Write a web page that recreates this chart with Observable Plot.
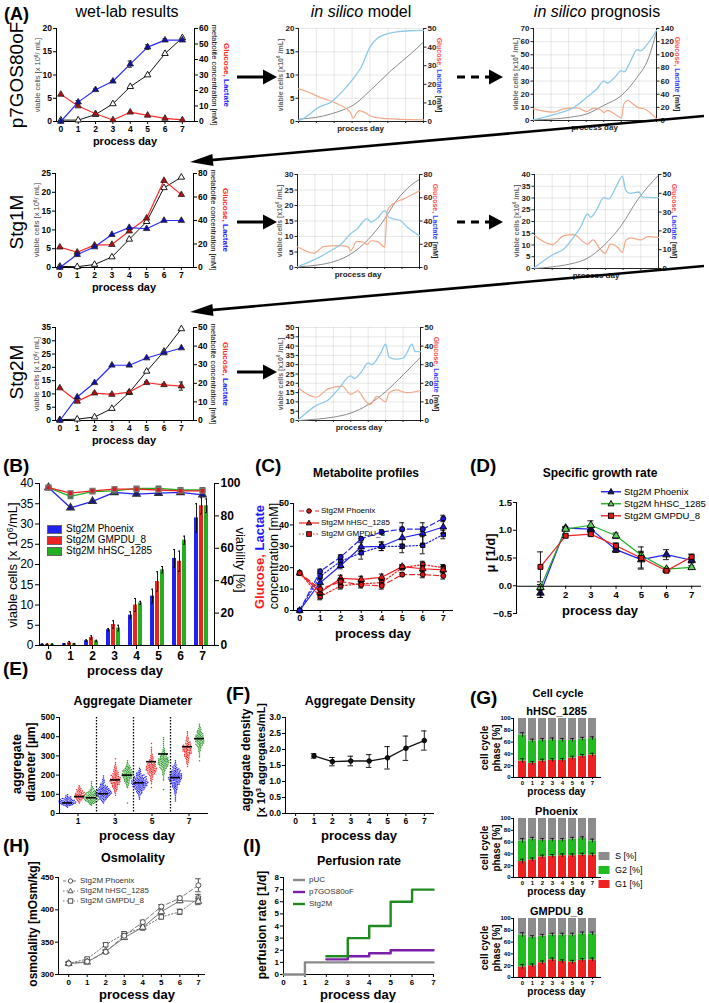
<!DOCTYPE html>
<html><head><meta charset="utf-8">
<script src="https://cdn.jsdelivr.net/npm/d3@7"></script>
<script src="https://cdn.jsdelivr.net/npm/@observablehq/plot@0.6"></script>
<style>
html,body{margin:0;padding:0;background:#fff;}
#fig{position:relative;width:709px;height:1003px;overflow:hidden;background:#fff;font-family:"Liberation Sans",Arial,Helvetica,sans-serif;}
#fig sup{font-size:65%;vertical-align:0.45em;line-height:0;}
</style></head><body><div id="fig"></div>
<script>
// ================= DATA =================
const days = [0,1,2,3,4,5,6,7];

// (A) wet-lab results
const p7_cells   = [0.3,0.3,1.5,3.8,7.5,10.0,14.6,18.0];
const p7_glucose = [17.5,10,5,1,6,4,2,1];
const p7_lactate = [0,12.5,20.5,26,37,48,52.5,52.5];
const p7_lactate_err = [0,1,0.5,0.5,2,1.5,0.8,0.8];
const stg1_cells   = [0.3,0.2,0.8,2.8,7.5,12.2,21.2,24];
const stg1_glucose = [17.3,13,19,19.5,31,42,74,62];
const stg1_lactate = [0,11,17.5,28,34,33,40,40];
const stg2_cells   = [0.3,0.5,1.3,4.5,10.5,18.5,26,34.5];
const stg2_glucose = [17.5,10.3,14.7,14,15.3,20.3,19.2,18.5];
const stg2_glucose_err = [0,0.5,0.5,0.5,0.5,0.5,0.5,2.2];
const stg2_lactate = [0,12.6,20.3,29.7,29.7,33.6,36.3,39];

// (A) in silico curves: [day, value]
const p7_model_cells   = [[0,0.5],[1,0.9],[1.8,1.6],[2.5,2.5],[3.1,3.6],[4,6.6],[5.2,11],[6.3,14.6],[7,17.1]];
const p7_model_glucose = [[0,17.5],[0.5,16],[1.2,13],[2.2,9.4],[2.9,4.9],[3.06,1.8],[3.25,4.5],[3.4,5.8],[3.7,4.9],[4,3.1],[4.6,1.8],[5.5,1.3],[7,0.9]];
const p7_model_lactate = [[0,0.5],[0.2,1.3],[1.2,8],[1.8,10.3],[2.5,16.6],[3.1,23.5],[3.5,29],[4.0,40],[4.4,44.6],[5.0,47.3],[5.5,48.2],[6.2,48.8],[7,49]];
const p7_prog_cells   = [[0,0.5],[1,1],[2.1,2.5],[3.05,5.1],[4,11.5],[5,19],[5.9,33],[6.5,46],[7,67.5]];
const p7_prog_glucose = [[0,17.8],[1.15,12.7],[1.7,17.8],[2.5,19.3],[3.05,13.7],[3.4,18.8],[3.8,16.8],[4,12.2],[4.2,15.3],[4.6,10.2],[5.0,4],[5.15,25.5],[5.35,30.5],[5.7,24.4],[6.0,19.3],[6.3,17.8],[7,2.5]];
const p7_prog_lactate = [[0,1],[1.3,10],[2.3,20],[3.05,35.6],[3.6,48],[4.0,60],[4.2,57],[4.6,65],[5.0,76],[5.15,74],[5.5,89],[5.9,108],[6.1,106],[6.5,117],[7,137]];
const stg1_model_cells   = [[0,0.2],[1,0.7],[1.9,1.6],[2.9,3.8],[3.8,7.6],[4.8,14],[5.7,21.7],[6.5,26.5],[7,28.4]];
const stg1_model_glucose = [[0,17.9],[0.95,12.4],[1.5,17.9],[2.3,18.8],[2.9,17.9],[3.05,14.4],[3.4,22.5],[3.8,21.7],[4,19.6],[4.2,23],[4.6,22.2],[5,17.3],[5.15,49],[5.5,55],[6.1,59],[7,66]];
const stg1_model_lactate = [[0,0.6],[1.15,8],[1.9,14.4],[2.5,20],[3.05,29],[3.4,33],[4,42],[4.2,39],[4.6,42.7],[5,49],[5.25,43],[5.9,40.4],[6.3,34.7],[7,27.4]];
const stg1_prog_cells   = [[0,0],[1,0.7],[2,1.9],[3,4.4],[3.9,9.7],[4.9,18.3],[5.8,29],[7,39.7]];
const stg1_prog_glucose = [[0,17.5],[1,12.7],[1.66,17.5],[2.2,18],[3,13],[3.3,15.2],[3.7,10.4],[3.98,8],[4.3,13],[4.7,11.2],[4.96,8.6],[5.15,14.8],[5.4,16.25],[6,15.2],[6.4,17],[7,16.6]];
const stg1_prog_lactate = [[0,0.5],[1.1,7.7],[1.66,10.4],[2.2,16.6],[2.6,22],[3.0,29],[3.17,27.3],[3.5,31],[3.9,37.7],[4.2,37],[4.6,43.4],[4.96,49],[5.15,41.6],[5.4,40],[5.9,40.7],[6.1,38],[7,37.7]];
const stg2_model_cells   = [[0,0],[1,0.7],[2,1.8],[3,4],[4,8.5],[5,15.5],[6,24.5],[7,34]];
const stg2_model_glucose = [[0,17.5],[1,12.5],[1.7,17],[2.5,18.5],[3,14],[3.4,16],[3.8,11],[4.1,8.5],[4.5,13],[5,10],[5.2,15],[5.6,16.5],[6.2,15],[7,16]];
const stg2_model_lactate = [[0,0.5],[1,8],[1.7,11],[2.3,17],[3,24],[3.2,22.5],[3.6,26],[4,31],[4.2,30],[4.7,36],[5,41],[5.2,34],[5.6,33],[6,33.5],[6.2,36],[6.5,41],[6.7,37],[7,37]];

// (B) viable cells & viability
const cellLines = ["Stg2M Phoenix","Stg2M GMPDU_8","Stg2M hHSC_1285"];
const B_phoenix = [0.3,0.4,1.2,3.9,7.5,12.2,21.5,31.5];
const B_gmpdu   = [0.3,0.7,2.0,5.2,10.0,15.8,20.8,34.5];
const B_hhsc    = [0.3,0.4,1.1,4.3,10.5,18.7,26.0,34.5];
const B_phoenix_err = [0.1,0.1,0.2,0.3,0.8,1.7,2.2,3.5];
const B_gmpdu_err   = [0.1,0.3,0.4,0.9,1.6,2.4,2.5,2.0];
const B_hhsc_err    = [0.1,0.1,0.2,0.7,0.4,0.8,1.0,1.7];
const B_viab_phoenix = [97.5,85,89,94.5,93.5,94,94.5,93];
const B_viab_gmpdu   = [97.5,94,95.5,96.5,96.5,96,95.5,95.5];
const B_viab_hhsc    = [97.5,92,95,95.5,97,97,96,96];

// (C) metabolite profiles
const C_lac_phoenix = [0,18.3,25,33.5,36.7,38,38,43];
const C_lac_hhsc    = [0,13,21,29.7,30,34,36,39];
const C_lac_gmpdu   = [0,16,23,27,30,30,30.5,35.5];
const C_glu_phoenix = [17.5,10,13.5,12,11.5,16.8,16.8,16.2];
const C_glu_hhsc    = [17.5,8.5,15,14.5,15.5,20.5,19.5,19];
const C_glu_gmpdu   = [17.5,6.5,11.5,12.5,13,20,21.5,20];
const C_lac_phoenix_err = [0,1,1,1,1,1,1,1.5];
const C_lac_hhsc_err    = [0,2,1.5,2,2,7,5,3];
const C_lac_gmpdu_err   = [0,1.5,1.5,3,2,1,4,2];
const C_glu_err         = [0,1.5,1.5,1.5,1.5,1,1.5,1.5];

// (D) specific growth rate
const D_days = [1,2,3,4,5,6,7];
const D_phoenix = [-0.13,1.04,1.02,0.65,0.47,0.56,0.46];
const D_hhsc    = [-0.03,1.02,1.09,0.9,0.55,0.3,0.33];
const D_gmpdu   = [0.34,0.9,0.93,0.72,0.5,0.27,0.52];
const D_phoenix_err = [0.08,0.03,0.05,0.05,0.15,0.09,0.05];
const D_hhsc_err    = [0.05,0.03,0.08,0.05,0.05,0.03,0.03];
const D_gmpdu_err   = [0.27,0.03,0.03,0.05,0.2,0.03,0.05];

// (E) aggregate diameter: counts per 10 µm bin, starting at `start`
const E_groups = [1,3,5,7];
const E_clouds = [
  {id:"1b", start:30,  counts:[2,10,14,13,9,5,2]},
  {id:"1r", start:50,  counts:[1,3,5,7,8,7,5,4,2,1]},
  {id:"1g", start:40,  counts:[2,6,10,12,11,9,7,5,3,2,1,1,1]},
  {id:"3b", start:50,  counts:[1,3,5,8,11,13,12,10,7,5,3,2,2,1,1]},
  {id:"3r", start:90,  counts:[1,1,2,3,4,5,7,8,8,7,6,5,4,3,2,2,1,1,0,1]},
  {id:"3g", start:50,  counts:[1,0,0,0,0,0,0,0,1,2,3,4,5,7,8,9,8,7,5,4,2,1,1]},
  {id:"5b", start:70,  counts:[1,1,2,4,5,7,9,11,13,13,11,9,7,5,3,2,1]},
  {id:"5r", start:130, counts:[1,0,1,1,2,2,3,5,6,8,9,8,7,5,4,3,2,2,1,1,1,1,0,1]},
  {id:"5g", start:120, counts:[1,0,0,0,0,1,1,1,2,2,3,5,6,8,9,9,8,6,4,3,2,2,1,1,1,1,1,1]},
  {id:"7b", start:60,  counts:[1,1,1,1,2,2,3,4,5,7,8,10,11,11,10,8,6,4,3,2,1,1]},
  {id:"7r", start:240, counts:[1,1,2,2,3,4,5,6,7,7,6,5,4,3,2,2,1,1,1]},
  {id:"7g", start:270, counts:[1,0,1,1,1,2,2,3,5,6,7,7,7,6,5,4,3,2,1,1]}
];
const E_medians = [55,88,82,103,175,200,160,270,310,187,348,390];
const E_separators = [2,4,6];

// (F) aggregate density
const F_days = [1,2,3,4,5,6,7];
const F_density = [1.8,1.62,1.64,1.64,1.74,2.04,2.28];
const F_err = [0.07,0.13,0.15,0.2,0.35,0.38,0.3];

// (G) cell cycle (G1, G2 in %; S = remainder)
const G_hhsc_G1 = [28,24,28,29,29,33,36,38];
const G_hhsc_G2 = [44,38,35,35,34,30,29,28];
const G_phoenix_G1 = [27,30,35,36,37,37,38,38];
const G_phoenix_G2 = [35,35,28,27,26,28,28,24];
const G_gmpdu_G1 = [18,20,25,30,27,26,29,30];
const G_gmpdu_G2 = [54,48,45,42,45,46,45,44];
const G_err = [4,3,3,3,3,3,3,3];

// (H) osmolality
const H_phoenix = [317,320,335,360,381,405,418,438];
const H_hhsc    = [317,319,336,357,373,397,414,413];
const H_gmpdu   = [317,324,346,363,372,389,397,418];
const H_phoenix_err = [2,2,3,3,3,3,3,10];
const H_hhsc_err    = [2,2,2,2,2,3,3,5];
const H_gmpdu_err   = [2,2,3,3,3,3,4,6];

// (I) perfusion rate (step after)
const I_pUC   = [[0,0],[1,1],[7,1]];
const I_p7    = [[2,1.25],[3,1.5],[4,1.75],[5,2],[7,2]];
const I_stg2m = [[2,1.5],[3,3],[4,4],[5,6],[6,7],[7,7]];

// ================= HELPERS =================
const fig = document.getElementById("fig");
const FONT = '"Liberation Sans", Arial, Helvetica, sans-serif';
const COL = {blue:"#2222ee", red:"#ee2222", green:"#22b022", egreen:"#2e9a2e", lblue:"#8ec9e8", orange:"#f2a98a", grey:"#8a8a8a"};
const fmtD = d3.format("d");

function mk(f, M, opts, st = {}) {
  const [ml, mt, mr, mb] = M;
  const style = `background:transparent;overflow:visible;font-family:${FONT};font-size:${st.size||8}px;font-weight:${st.weight||"bold"};color:${st.color||"#000"};`;
  const svg = Plot.plot(Object.assign({
    width: f.r - f.l + ml + mr, height: f.b - f.t + mt + mb,
    marginLeft: ml, marginTop: mt, marginRight: mr, marginBottom: mb, style
  }, opts));
  svg.style.position = "absolute";
  svg.style.left = (f.l - ml) + "px";
  svg.style.top = (f.t - mt) + "px";
  svg.style.maxWidth = "none";
  fig.appendChild(svg);
  return svg;
}
function T(html, x, y, o = {}) {
  const d = document.createElement("div");
  d.innerHTML = html;
  const tx = o.anchor === "start" ? "0" : o.anchor === "end" ? "-100%" : "-50%";
  d.style.cssText = `position:absolute;left:${x}px;top:${y}px;white-space:nowrap;line-height:1;` +
    `transform:translate(${tx},-50%)${o.rot ? ` rotate(${o.rot}deg)` : ""};` +
    `font-size:${o.size||10}px;font-weight:${o.bold?"bold":"normal"};color:${o.color||"#000"};font-style:${o.italic?"italic":"normal"};`;
  fig.appendChild(d);
  return d;
}
function sym(s, cx, cy, r, fill, stroke) {
  if (s === "circle") return `<circle cx="${cx}" cy="${cy}" r="${r}" fill="${fill}" stroke="${stroke}" stroke-width="0.9"/>`;
  if (s === "square") return `<rect x="${cx-r}" y="${cy-r}" width="${2*r}" height="${2*r}" fill="${fill}" stroke="${stroke}" stroke-width="0.9"/>`;
  if (s === "triangle") return `<path d="M${cx},${cy-r*1.25}L${cx+r*1.15},${cy+r*0.8}L${cx-r*1.15},${cy+r*0.8}Z" fill="${fill}" stroke="${stroke}" stroke-width="0.9"/>`;
  return "";
}
function sw(w, h, o) {
  let s = `<svg width="${w}" height="${h}" style="display:block;overflow:visible">`;
  if (o.box) s += `<rect x="0.5" y="0.5" width="${w-1}" height="${h-1}" fill="${o.box}" stroke="${o.boxStroke||"none"}"/>`;
  if (o.stroke) s += `<line x1="0" x2="${w}" y1="${h/2}" y2="${h/2}" stroke="${o.stroke}" stroke-width="${o.sw||1.2}" ${o.dash?`stroke-dasharray="${o.dash}"`:""}/>`;
  if (o.sym) s += sym(o.sym, w/2, h/2, o.r||2.5, o.fill, o.mstroke||"#000");
  return s + "</svg>";
}
function L(x, y, swatch, text, o = {}) {
  const d = document.createElement("div");
  d.style.cssText = `position:absolute;left:${x}px;top:${y}px;transform:translateY(-50%);display:flex;align-items:center;white-space:nowrap;font-size:${o.size||9}px;color:${o.color||"#000"};line-height:1;`;
  d.innerHTML = swatch + `<span style="margin-left:${o.gap||3}px">${text}</span>`;
  fig.appendChild(d);
}
function ebar(rows, x, y, e, w, stroke = "#000", sw = 0.9) {
  const r = rows.filter(d => e(d) > 0);
  return [
    Plot.ruleX(r, {x, y1: d => y(d) - e(d), y2: d => y(d) + e(d), stroke, strokeWidth: sw}),
    Plot.ruleY(r, {y: d => y(d) + e(d), x1: d => x(d) - w, x2: d => x(d) + w, stroke, strokeWidth: sw}),
    Plot.ruleY(r, {y: d => y(d) - e(d), x1: d => x(d) - w, x2: d => x(d) + w, stroke, strokeWidth: sw})
  ];
}
function seriesMarks(series, capW) {
  const marks = [];
  for (const s of series) {
    const rows = s.x.map((d, i) => ({day: d, v: s.v[i], e: s.e ? s.e[i] : 0}));
    marks.push(...ebar(rows, d => d.day, d => d.v, d => d.e, capW, s.estroke || "#000"));
    marks.push(Plot.line(rows, {x: "day", y: "v", stroke: s.stroke, strokeWidth: s.sw || 1.2, strokeDasharray: s.dash, curve: s.curve || "linear"}));
    if (s.symbol) marks.push(Plot.dot(rows, {x: "day", y: "v", symbol: s.symbol, r: s.r || 2.5, fill: s.fill, stroke: s.mstroke || "#000", strokeWidth: 0.9}));
  }
  return marks;
}
const rng = (a, b, s) => d3.range(a, b + s / 2, s);

// ================= (A) =================
function wetlab(f, lMax, lStep, rMax, rStep, cells, glu, lac, gluErr, lacErr) {
  const rows = days.map((d, i) => ({day: d, cells: cells[i], glu: glu[i], lac: lac[i], ge: gluErr ? gluErr[i] : 0, le: lacErr ? lacErr[i] : 0}));
  const M = [24, 6, 24, 16];
  const xs = {domain: [-0.25, 7.7], ticks: days, tickFormat: fmtD, tickSize: 3, tickPadding: 1.5, line: true, label: null};
  mk(f, M, {
    x: xs,
    y: {domain: [0, lMax], ticks: rng(0, lMax, lStep), tickFormat: fmtD, tickSize: 3, tickPadding: 1.5, line: true, label: null},
    marks: [
      Plot.line(rows, {x: "day", y: "cells", stroke: "#111", strokeWidth: 1}),
      Plot.dot(rows, {x: "day", y: "cells", symbol: "triangle", r: 2.4, fill: "#fff", stroke: "#000", strokeWidth: 0.9})
    ]
  }, {size: 8.5});
  mk(f, M, {
    x: {...xs, axis: null},
    y: {domain: [0, rMax], axis: "right", ticks: rng(0, rMax, rStep), tickFormat: fmtD, tickSize: 3, tickPadding: 1.5, line: true, label: null},
    marks: [
      ...ebar(rows, d => d.day, d => d.glu, d => d.ge, 0.12),
      ...ebar(rows, d => d.day, d => d.lac, d => d.le, 0.12),
      Plot.line(rows, {x: "day", y: "glu", stroke: "#ff2a2a", strokeWidth: 1.2}),
      Plot.line(rows, {x: "day", y: "lac", stroke: "#2a2aff", strokeWidth: 1.2}),
      Plot.dot(rows, {x: "day", y: "glu", symbol: "triangle", r: 2.4, fill: "#b01010", stroke: "#222", strokeWidth: 0.8}),
      Plot.dot(rows, {x: "day", y: "lac", symbol: "triangle", r: 2.4, fill: "#1010b0", stroke: "#222", strokeWidth: 0.8})
    ]
  }, {size: 8.5});
  const cy = (f.t + f.b) / 2;
  T(`viable cells [x 10<sup>6</sup>/ mL]`, f.l - 18, cy, {rot: -90, size: 7.5, color: "#444"});
  T(`metabolite concentration [mM]`, f.r + 20, cy, {rot: 90, size: 7.5});
  T(`<span style="color:#ff2020">Glucose,</span> <span style="color:#2020ff">Lactate</span>`, f.r + 32, cy, {rot: 90, size: 8, bold: true});
  T("process day", (f.l + f.r) / 2, f.b + 20, {size: 11, bold: true});
}
function silico(f, lMax, lStep, rMax, rStep, cells, glu, lac, rOff) {
  const M = [20, 6, 20, 8];
  const xs = {domain: [0, 7], ticks: days, tickSize: 2, tickFormat: () => "", line: true, label: null, grid: true};
  const toRows = a => a.map(([d, v]) => ({day: d, v}));
  mk(f, M, {
    x: xs,
    y: {domain: [0, lMax], ticks: rng(0, lMax, lStep), tickFormat: fmtD, tickSize: 2.5, tickPadding: 1.5, line: true, label: null, grid: true},
    marks: [Plot.line(toRows(cells), {x: "day", y: "v", stroke: COL.grey, strokeWidth: 1, curve: "monotone-x"})]
  }, {size: 8, color: "#222"});
  mk(f, M, {
    x: {...xs, axis: null, grid: false},
    y: {domain: [0, rMax], axis: "right", ticks: rng(0, rMax, rStep), tickFormat: fmtD, tickSize: 2.5, tickPadding: 1.5, line: true, label: null},
    marks: [
      Plot.line(toRows(glu), {x: "day", y: "v", stroke: COL.orange, strokeWidth: 1.2, curve: "monotone-x"}),
      Plot.line(toRows(lac), {x: "day", y: "v", stroke: COL.lblue, strokeWidth: 1.3, curve: "monotone-x"})
    ]
  }, {size: 8, color: "#222"});
  const cy = (f.t + f.b) / 2;
  T(`viable cells [x10<sup>6</sup> /mL]`, f.l - 18, cy, {rot: -90, size: 7, bold: true, color: "#666"});
  T(`<span style="color:#ff4d4d">Glucose,</span> <span style="color:#3344ff">Lactate</span> [mM]`, f.r + (rOff || 16), cy, {rot: 90, size: 7, bold: true, color: "#222"});
  T("process day", (f.l + f.r) / 2, f.b + 8, {size: 8, bold: true, color: "#222"});
}

T("(A)", 4, 14, {anchor: "start", size: 18, bold: true});
T("wet-lab results", 127, 12, {size: 16});
T("<i>in silico</i> model", 361, 12, {size: 16});
T("<i>in silico</i> prognosis", 597, 12, {size: 16});
T("p7GOS80oF", 16, 75, {rot: -90, size: 19});
T("Stg1M", 16, 222, {rot: -90, size: 19});
T("Stg2M", 16, 372, {rot: -90, size: 19});

wetlab({l: 56, r: 194, t: 28, b: 121}, 20, 5, 60, 10, p7_cells, p7_glucose, p7_lactate, null, p7_lactate_err);
wetlab({l: 55, r: 193, t: 173, b: 267}, 25, 5, 80, 20, stg1_cells, stg1_glucose, stg1_lactate);
wetlab({l: 55, r: 193, t: 327, b: 420}, 35, 5, 50, 10, stg2_cells, stg2_glucose, stg2_lactate, stg2_glucose_err);
silico({l: 298, r: 423, t: 28, b: 121}, 20, 5, 50, 10, p7_model_cells, p7_model_glucose, p7_model_lactate);
silico({l: 533, r: 656, t: 28, b: 120}, 70, 10, 140, 20, p7_prog_cells, p7_prog_glucose, p7_prog_lactate, 21);
silico({l: 297, r: 419, t: 174, b: 267}, 30, 5, 80, 20, stg1_model_cells, stg1_model_glucose, stg1_model_lactate);
silico({l: 534, r: 658, t: 174, b: 268}, 40, 5, 50, 10, stg1_prog_cells, stg1_prog_glucose, stg1_prog_lactate);
silico({l: 298, r: 420, t: 327, b: 420}, 50, 5, 50, 10, stg2_model_cells, stg2_model_glucose, stg2_model_lactate);

// arrows (schematic annotation)
(function () {
  let s = "";
  const head = (x, y, a, len, hw) => {
    const c = Math.cos(a), n = Math.sin(a), bx = x - c * len, by = y - n * len;
    return `<path d="M${x},${y}L${bx - n * hw},${by + c * hw}L${bx + n * hw},${by - c * hw}Z" fill="#000"/>`;
  };
  const line = (x1, y1, x2, y2, w, dash) => `<line x1="${x1}" y1="${y1}" x2="${x2}" y2="${y2}" stroke="#000" stroke-width="${w}" ${dash ? `stroke-dasharray="${dash}"` : ""}/>`;
  for (const y of [77, 222, 372]) s += line(237, y, 264, y, 3) + head(277, y, 0, 14, 7.5);
  for (const y of [77, 222]) s += line(457, y, 490, y, 3, "8,6") + head(503, y, 0, 14, 7.5);
  const diag = (x1, y1, x2, y2) => { const a = Math.atan2(y2 - y1, x2 - x1); s += line(x1, y1, x2 - Math.cos(a) * 18, y2 - Math.sin(a) * 18, 2.6) + head(x2, y2, a, 23, 6); };
  diag(704, 116, 190, 162);
  diag(704, 266, 190, 312);
  const d = document.createElement("div");
  d.style.cssText = "position:absolute;left:0;top:0;pointer-events:none;";
  d.innerHTML = `<svg width="709" height="1003" style="display:block">${s}</svg>`;
  fig.appendChild(d);
})();

// ================= (B) =================
(function () {
  const f = {l: 36, r: 214, t: 483, b: 645};
  const M = [28, 6, 28, 18];
  const series = [
    {line: cellLines[0], v: B_phoenix, e: B_phoenix_err, col: COL.blue},
    {line: cellLines[1], v: B_gmpdu, e: B_gmpdu_err, col: COL.red},
    {line: cellLines[2], v: B_hhsc, e: B_hhsc_err, col: COL.green}
  ];
  const rows = [];
  days.forEach((d, i) => series.forEach(s => rows.push({day: d, line: s.line, v: s.v[i], e: s.e[i], col: s.col})));
  mk(f, M, {
    fx: {domain: days, paddingInner: 0.22, paddingOuter: 0.11, axis: null},
    x: {domain: cellLines, axis: null, paddingInner: 0.12, paddingOuter: 0},
    y: {domain: [0, 40], ticks: rng(0, 40, 5), tickFormat: fmtD, tickSize: 4, tickPadding: 2, line: true, label: null},
    color: {type: "identity"},
    marks: [
      Plot.barY(rows, {fx: "day", x: "line", y: "v", fill: "col"}),
      Plot.ruleX(rows, {fx: "day", x: "line", y1: d => d.v - d.e, y2: d => d.v + d.e, stroke: "#000", strokeWidth: 0.9}),
      Plot.tickY(rows, {fx: "day", x: "line", y: d => d.v + d.e, stroke: "#000", strokeWidth: 0.9, inset: 1}),
      Plot.tickY(rows, {fx: "day", x: "line", y: d => d.v - d.e, stroke: "#000", strokeWidth: 0.9, inset: 1})
    ]
  }, {size: 12, weight: "normal"});
  const vs = [
    {x: days, v: B_viab_phoenix, stroke: COL.blue, symbol: "triangle", fill: "#1a1a90", mstroke: "#333", r: 2.8},
    {x: days, v: B_viab_hhsc, stroke: COL.green, symbol: "square", fill: "#1f8f1f", mstroke: "#666", r: 2.6},
    {x: days, v: B_viab_gmpdu, stroke: COL.red, symbol: "square", fill: "#e01818", mstroke: "#777", r: 2.8}
  ];
  mk(f, M, {
    x: {type: "point", domain: days, padding: 0.5, tickSize: 4, tickPadding: 2, line: true, label: null},
    y: {domain: [0, 100], axis: "right", ticks: rng(0, 100, 20), tickFormat: fmtD, tickSize: 4, tickPadding: 2, line: true, label: null},
    marks: vs.flatMap(s => {
      const r = s.x.map((d, i) => ({day: d, v: s.v[i]}));
      return [Plot.line(r, {x: "day", y: "v", stroke: s.stroke, strokeWidth: 1.3}),
              Plot.dot(r, {x: "day", y: "v", symbol: s.symbol, r: s.r, fill: s.fill, stroke: s.mstroke, strokeWidth: 1.2})];
    })
  }, {size: 12, weight: "bold"});
  T("(B)", 3, 465, {anchor: "start", size: 19, bold: true});
  T(`viable cells [x 10<sup>6</sup>/mL]`, 12, 565, {rot: -90, size: 13});
  T("viability [%]", 240, 560, {rot: 90, size: 13});
  T("process day", 125, 670, {size: 13, bold: true});
  const leg = [[COL.blue, cellLines[0]], [COL.red, cellLines[1]], [COL.green, cellLines[2]]];
  leg.forEach(([c, t], i) => L(47, 529 + i * 11, sw(15, 9, {box: c, boxStroke: "#666"}), t, {size: 10, gap: 4}));
})();

// ================= (C) =================
(function () {
  const f = {l: 293, r: 452, t: 503, b: 610};
  const series = [
    {x: days, v: C_lac_gmpdu, e: C_lac_gmpdu_err, stroke: COL.blue, dash: "1.5,2", symbol: "square", fill: "#1a1acc"},
    {x: days, v: C_lac_hhsc, e: C_lac_hhsc_err, stroke: COL.blue, symbol: "triangle", fill: "#1a1acc"},
    {x: days, v: C_lac_phoenix, e: C_lac_phoenix_err, stroke: COL.blue, dash: "5,3", symbol: "circle", fill: "#1a1acc"},
    {x: days, v: C_glu_gmpdu, e: C_glu_err, stroke: COL.red, dash: "1.5,2", symbol: "square", fill: "#dd1515"},
    {x: days, v: C_glu_hhsc, e: C_glu_err, stroke: COL.red, symbol: "triangle", fill: "#dd1515"},
    {x: days, v: C_glu_phoenix, e: C_glu_err, stroke: COL.red, dash: "5,3", symbol: "circle", fill: "#dd1515"}
  ];
  mk(f, [24, 6, 10, 16], {
    x: {domain: [-0.3, 7.45], ticks: days, tickFormat: fmtD, tickSize: 3, tickPadding: 1.5, line: true, label: null},
    y: {domain: [0, 50], ticks: rng(0, 50, 10), tickFormat: fmtD, tickSize: 3, tickPadding: 1.5, line: true, label: null},
    marks: seriesMarks(series, 0.12)
  }, {size: 9});
  T("(C)", 255, 465, {anchor: "start", size: 19, bold: true});
  T("Metabolite profiles", 366, 473, {size: 12, bold: true});
  T(`<span style="color:#ff1a1a">Glucose,</span> <span style="color:#1a1aff">Lactate</span>`, 259, 557, {rot: -90, size: 13, bold: true});
  T("concentration [mM]", 274, 556, {rot: -90, size: 12.5});
  T("process day", 373, 633, {size: 13, bold: true});
  const leg = [["Stg2M Phoenix", "5,3", "circle"], ["Stg2M hHSC_1285", null, "triangle"], ["Stg2M GMPDU_8", "1.5,2", "square"]];
  leg.forEach(([t, dash, s], i) => L(299, 511 + i * 11.7, sw(20, 8, {stroke: COL.red, dash, sym: s, fill: "#dd1515", r: 2.3}), t, {size: 8, gap: 2}));
})();

// ================= (D) =================
(function () {
  const f = {l: 516, r: 700, t: 502, b: 613};
  const dom = [0.05, 7.35];
  const series = [
    {x: D_days, v: D_phoenix, e: D_phoenix_err, stroke: COL.blue, symbol: "triangle", fill: "#14147a", r: 2.8},
    {x: D_days, v: D_hhsc, e: D_hhsc_err, stroke: COL.green, symbol: "triangle", fill: "#60d060", r: 2.8},
    {x: D_days, v: D_gmpdu, e: D_gmpdu_err, stroke: COL.red, symbol: "square", fill: "#e01818", r: 2.8}
  ];
  mk(f, [26, 6, 10, 10], {
    x: {domain: dom, axis: null},
    y: {domain: [-0.5, 1.5], ticks: [-0.5, 0, 0.5, 1, 1.5], tickFormat: d3.format(".1f"), tickSize: 3, tickPadding: 1.5, line: true, label: null},
    marks: seriesMarks(series, 0.12)
  }, {size: 9.5});
  mk({l: f.l, r: f.r, t: f.t, b: 585.75}, [26, 6, 10, 10], {
    x: {domain: dom, ticks: D_days, tickFormat: fmtD, tickSize: 3, tickPadding: 1.5, line: true, label: null},
    marks: [Plot.tickX(D_days, {x: d => d, strokeOpacity: 0})]
  }, {size: 9.5});
  T("(D)", 470, 465, {anchor: "start", size: 19, bold: true});
  T("Specific growth rate", 600, 473, {size: 12, bold: true});
  T("μ [1/d]", 490, 553, {rot: -90, size: 13, bold: true});
  T("process day", 600, 610, {size: 13, bold: true});
  const leg = [["Stg2M Phoenix", COL.blue, "triangle", "#14147a"], ["Stg2M hHSC_1285", COL.green, "triangle", "#60d060"], ["Stg2M GMPDU_8", COL.red, "square", "#e01818"]];
  leg.forEach(([t, c, s, fl], i) => L(601, 492 + i * 12, sw(20, 9, {stroke: c, sw: 1.4, sym: s, fill: fl, r: 2.6}), t, {size: 9.5, gap: 3}));
})();

// ================= (E) =================
(function () {
  const f = {l: 59, r: 207, t: 717, b: 813};
  const M = [24, 6, 6, 14];
  const colOf = id => ({b: "#2a2af0", r: "#f02a2a", g: COL.egreen})[id[1]];
  const pts = [];
  E_clouds.forEach(c => c.counts.forEach((n, k) => {
    for (let j = 0; j < n; j++) pts.push({cloud: c.id, col: colOf(c.id), v: c.start + k * 10 + (j + 0.5) * 10 / n});
  }));
  mk(f, M, {
    fx: {domain: E_clouds.map(c => c.id), padding: 0, axis: null},
    y: {domain: [0, 500], axis: null},
    color: {type: "identity"},
    marks: [
      Plot.dot(pts, Plot.dodgeX({anchor: "middle", padding: 0}, {fx: "cloud", y: "v", r: 0.78, fill: "col"})),
      Plot.ruleY(E_clouds.map((c, i) => ({cloud: c.id, v: E_medians[i]})), {fx: "cloud", y: "v", stroke: "#000", strokeWidth: 1.6, insetLeft: 1, insetRight: 1})
    ]
  }, {size: 9});
  mk(f, M, {
    x: {domain: [0, 8], ticks: E_groups, tickFormat: fmtD, tickSize: 3, tickPadding: 1.5, line: true, label: null},
    y: {domain: [0, 500], ticks: rng(0, 500, 100), tickFormat: fmtD, tickSize: 3, tickPadding: 1.5, line: true, label: null},
    marks: [Plot.ruleX(E_separators, {x: d => d, stroke: "#000", strokeWidth: 1.3, strokeDasharray: "1.5,1.5"})]
  }, {size: 8.5});
  T("(E)", 3, 668, {anchor: "start", size: 19, bold: true});
  T("Aggregate Diameter", 133, 701, {size: 12.5, bold: true});
  T("aggregate", 17, 764, {rot: -90, size: 12.5, bold: true});
  T("diameter [µm]", 31, 762, {rot: -90, size: 12, bold: true});
  T("process day", 137, 835, {size: 13, bold: true});
})();

// ================= (F) =================
(function () {
  const f = {l: 285, r: 433, t: 717, b: 813};
  mk(f, [24, 6, 10, 14], {
    x: {domain: [-0.55, 7.5], ticks: days, tickFormat: fmtD, tickSize: 3, tickPadding: 1.5, line: true, label: null},
    y: {domain: [0, 3], ticks: rng(0, 3, 0.5), tickFormat: d3.format(".1f"), tickSize: 3, tickPadding: 1.5, line: true, label: null},
    marks: seriesMarks([{x: F_days, v: F_density, e: F_err, stroke: "#111", symbol: "circle", fill: "#111", r: 2.3, sw: 1.3}], 0.15)
  }, {size: 8.5});
  T("(F)", 226, 693, {anchor: "start", size: 19, bold: true});
  T("Aggregate Density", 360, 701, {size: 12.5, bold: true});
  T("aggregate density", 246, 760, {rot: -90, size: 12, bold: true});
  T(`[x 10<sup>3</sup> aggregates/mL]`, 261, 760, {rot: -90, size: 11, bold: true});
  T("process day", 359, 835, {size: 13, bold: true});
})();

// ================= (G) =================
(function () {
  const phaseCol = {G1: "#ee2020", G2: "#22bb22", S: "#8c8c8c"};
  function cc(f, title, G1, G2) {
    const rows = [];
    days.forEach((d, i) => {
      rows.push({day: d, ph: "G1", v: G1[i]});
      rows.push({day: d, ph: "G2", v: G2[i]});
      rows.push({day: d, ph: "S", v: 100 - G1[i] - G2[i]});
    });
    const tops = days.map((d, i) => ({day: d, y1: G1[i], y2: G1[i] + G2[i], e: G_err[i]}));
    const eb = (key) => [
      Plot.ruleX(tops, {x: "day", y1: d => d[key] - d.e, y2: d => d[key] + d.e, stroke: "#000", strokeWidth: 0.7}),
      Plot.tickY(tops, {x: "day", y: d => d[key] + d.e, stroke: "#000", strokeWidth: 0.7, inset: 2})
    ];
    mk(f, [18, 4, 4, 10], {
      x: {type: "band", domain: days, padding: 0.22, tickSize: 2, tickPadding: 1, line: true, label: null},
      y: {domain: [0, 100], ticks: rng(0, 100, 20), tickFormat: fmtD, tickSize: 2, tickPadding: 1, line: true, label: null},
      color: {type: "identity"},
      marks: [Plot.barY(rows, {x: "day", y: "v", fill: d => phaseCol[d.ph]}), ...eb("y1"), ...eb("y2")]
    }, {size: 6});
    const cy = (f.t + f.b) / 2;
    T(title, (f.l + f.r) / 2, f.t - 7, {size: 11, bold: true});
    T("cell cycle", 485, cy, {rot: -90, size: 10, bold: true});
    T("phase [%]", 497, cy, {rot: -90, size: 10, bold: true});
    T("process day", (f.l + f.r) / 2, f.b + 15, {size: 10, bold: true});
  }
  T("(G)", 470, 697, {anchor: "start", size: 19, bold: true});
  T("Cell cycle", 558, 693, {size: 11, bold: true});
  cc({l: 513, r: 600, t: 718, b: 777}, "hHSC_1285", G_hhsc_G1, G_hhsc_G2);
  cc({l: 513, r: 600, t: 818, b: 877}, "Phoenix", G_phoenix_G1, G_phoenix_G2);
  cc({l: 513, r: 600, t: 918, b: 977}, "GMPDU_8", G_gmpdu_G1, G_gmpdu_G2);
  [["S [%]", phaseCol.S], ["G2 [%]", phaseCol.G2], ["G1 [%]", phaseCol.G1]].forEach(([t, c], i) =>
    L(598, 856 + i * 14, sw(12, 9, {box: c}), t, {size: 9, gap: 5}));
})();

// ================= (H) =================
(function () {
  const f = {l: 58, r: 204, t: 877, b: 974};
  const series = [
    {x: days, v: H_gmpdu, e: H_gmpdu_err, stroke: "#777", dash: "1.5,2", symbol: "square", fill: "#fff", mstroke: "#444", estroke: "#444", sw: 1},
    {x: days, v: H_hhsc, e: H_hhsc_err, stroke: "#777", symbol: "triangle", fill: "#fff", mstroke: "#444", estroke: "#444", sw: 1},
    {x: days, v: H_phoenix, e: H_phoenix_err, stroke: "#777", dash: "4,2.5", symbol: "circle", fill: "#fff", mstroke: "#444", estroke: "#444", sw: 1}
  ];
  mk(f, [24, 6, 10, 14], {
    x: {domain: [-0.55, 7.33], ticks: days, tickFormat: fmtD, tickSize: 3, tickPadding: 1.5, line: true, label: null},
    y: {domain: [300, 450], ticks: [300, 350, 400, 450], tickFormat: fmtD, tickSize: 3, tickPadding: 1.5, line: true, label: null},
    marks: seriesMarks(series, 0.15)
  }, {size: 8});
  T("(H)", 3, 845, {anchor: "start", size: 19, bold: true});
  T("Osmolality", 133, 858, {size: 12.5, bold: true});
  T("osmolality [mOsm/kg]", 33, 924, {rot: -90, size: 12, bold: true});
  T("process day", 137, 994, {size: 13, bold: true});
  const leg = [["Stg2M Phoenix", "3,2", "circle"], ["Stg2M hHSC_1285", "1.5,2", "triangle"], ["Stg2M GMPDU_8", "1.5,2", "square"]];
  leg.forEach(([t, dash, s], i) => L(63, 881 + i * 10.2, sw(15, 8, {stroke: "#777", sw: 1, dash, sym: s, fill: "#fff", mstroke: "#444", r: 2.2}), t, {size: 8, color: "#333", gap: 2}));
})();

// ================= (I) =================
(function () {
  const f = {l: 283, r: 433, t: 877, b: 974};
  const toRows = a => a.map(([d, v]) => ({day: d, v}));
  mk(f, [20, 6, 10, 14], {
    x: {domain: [0, 7], ticks: days, tickFormat: fmtD, tickSize: 3, tickPadding: 1.5, line: true, label: null},
    y: {domain: [0, 8], ticks: rng(0, 8, 1), tickFormat: fmtD, tickSize: 3, tickPadding: 1.5, line: true, label: null},
    marks: [
      Plot.line(toRows(I_pUC), {x: "day", y: "v", stroke: "#8a8a8a", strokeWidth: 2.4, curve: "step-after"}),
      Plot.line(toRows(I_p7), {x: "day", y: "v", stroke: "#7a1fa8", strokeWidth: 2.4, curve: "step-after"}),
      Plot.line(toRows(I_stg2m), {x: "day", y: "v", stroke: "#1f8a1f", strokeWidth: 2.4, curve: "step-after"})
    ]
  }, {size: 8});
  T("(I)", 243, 845, {anchor: "start", size: 19, bold: true});
  T("Perfusion rate", 359, 861, {size: 12.5, bold: true});
  T("perfusion rate [1/d]", 262, 925, {rot: -90, size: 12, bold: true});
  T("process day", 358, 994, {size: 13, bold: true});
  [["pUC", "#8a8a8a"], ["p7GOS80oF", "#7a1fa8"], ["Stg2M", "#1f8a1f"]].forEach(([t, c], i) =>
    L(293, 880 + i * 12, sw(12, 6, {stroke: c, sw: 2.4}), t, {size: 8, color: "#333", gap: 4}));
})();
</script></body></html>
